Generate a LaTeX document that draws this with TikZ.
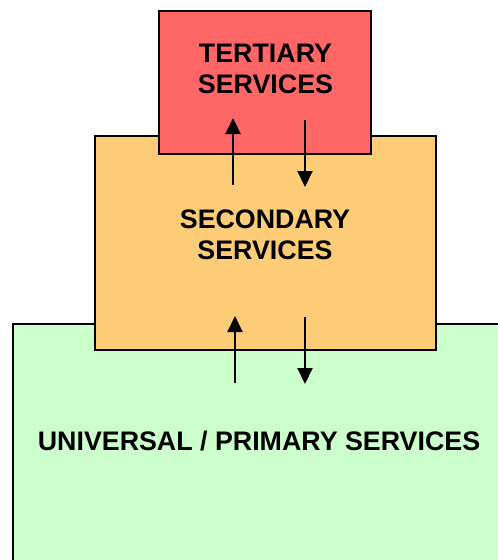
\documentclass[tikz,border=0pt]{standalone}
\usepackage{fontspec}
\setmainfont{Liberation Sans}
\usetikzlibrary{arrows.meta}

\definecolor{tertred}{HTML}{FF6666}
\definecolor{secorange}{HTML}{FFCC77}
\definecolor{primgreen}{HTML}{CCFFCC}

\tikzset{
    tier/.style={draw=black,line width=1.5pt,inner sep=0pt},
    tiertext/.style={font=\bfseries\fontsize{26.8}{31}\selectfont,align=center,inner sep=0pt},
    flow/.style={line width=2pt,-{Triangle[width=15pt,length=16pt]}}
}

\begin{document}
\begin{tikzpicture}[x=1pt,y=-1pt]
    \useasboundingbox (0,0) rectangle (498,560);
    \clip (0,0) rectangle (498,560);

    % Tiers, bottom first
    \node (primary) [tier,fill=primgreen,minimum width=507pt,minimum height=256pt] at (266.5,452) {};
    \node (secondary) [tier,fill=secorange,minimum width=341pt,minimum height=214pt] at (265.5,243) {};
    \node (tertiary) [tier,fill=tertred,minimum width=212pt,minimum height=143pt] at (265,82.5) {};

    % Labels
    \node (tertlabel) [tiertext] at (265.5,69) {TERTIARY\\SERVICES};
    \node (seclabel) [tiertext] at (265,234.5) {SECONDARY\\SERVICES};
    \node (primlabel) [tiertext,anchor=base] at (259,450) {UNIVERSAL / PRIMARY SERVICES};

    % Arrow ends
    \coordinate (up1s) at (233,185);
    \coordinate (up1e) at (233,118);
    \coordinate (dn1s) at (305,120);
    \coordinate (dn1e) at (305,187);
    \coordinate (up2s) at (235,383);
    \coordinate (up2e) at (235,316);
    \coordinate (dn2s) at (305,317);
    \coordinate (dn2e) at (305,384);

    % Flows between tiers
    \draw [flow] (up1s) -- (up1e);
    \draw [flow] (dn1s) -- (dn1e);
    \draw [flow] (up2s) -- (up2e);
    \draw [flow] (dn2s) -- (dn2e);
\end{tikzpicture}
\end{document}
